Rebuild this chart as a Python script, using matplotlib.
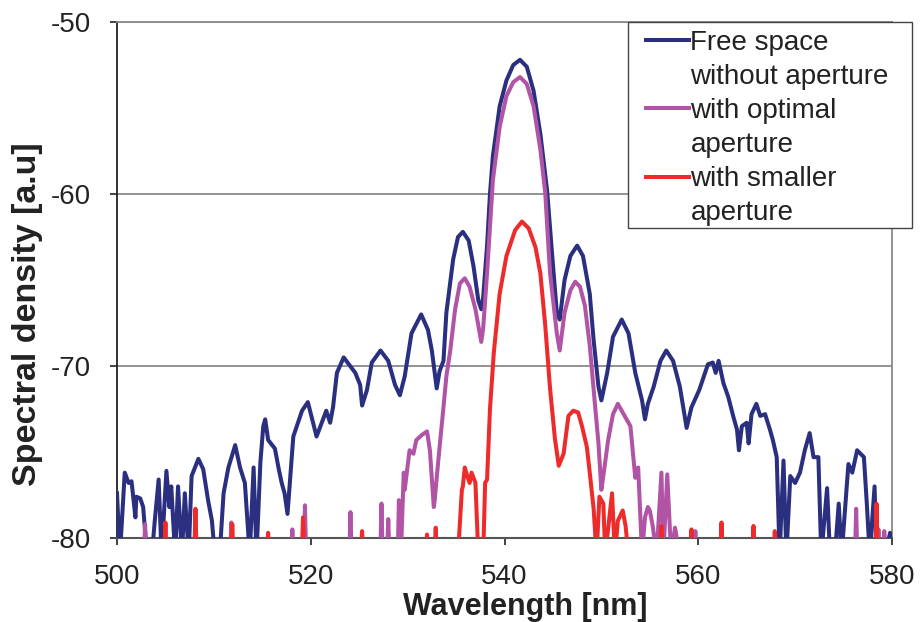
import numpy as np
import matplotlib
matplotlib.use("Agg")
import matplotlib.pyplot as plt
from matplotlib.lines import Line2D
from matplotlib.patches import Rectangle

plt.rcParams['font.family'] = ['Liberation Sans', 'DejaVu Sans']

# (wavelength nm, spectral density a.u.); -81 = below the axis floor
free_space = np.array([
    (500.0, -77.4), (500.3, -81), (500.8, -76.2), (501.2, -76.8), (501.5, -76.7), (501.9, -78.8),
    (502.0, -77.6), (502.4, -77.7), (502.7, -78.2), (503.1, -81), (503.6, -81), (503.9, -79.0),
    (504.3, -76.6), (504.6, -81), (505.1, -76.1), (505.4, -78.2), (505.6, -77.0), (506.0, -81),
    (506.3, -77.0), (506.7, -81), (507.0, -77.4), (507.4, -81), (507.7, -76.4), (508.4, -75.4),
    (508.9, -76.0), (509.4, -77.8), (509.8, -79.0), (510.1, -81), (510.6, -81), (511.0, -77.4),
    (511.5, -75.9), (512.2, -74.6), (512.7, -75.9), (513.2, -76.8), (513.7, -81), (514.1, -75.9),
    (514.4, -81), (514.8, -75.6), (515.1, -73.5), (515.3, -73.1), (515.6, -74.3), (516.3, -74.8),
    (516.7, -76.0), (517.0, -76.8), (517.3, -77.4), (517.6, -78.6), (518.2, -74.1), (519.1, -72.6),
    (519.7, -72.1), (520.6, -74.1), (521.6, -72.6), (522.0, -73.3), (522.3, -72.4), (522.7, -70.4),
    (523.4, -69.5), (523.8, -69.8), (524.6, -70.4), (525.1, -71.1), (525.3, -72.3), (525.8, -71.4),
    (526.3, -69.8), (527.2, -69.1), (528.0, -69.7), (528.7, -71.1), (529.2, -71.7), (529.7, -70.6),
    (530.4, -68.1), (531.4, -67.0), (532.1, -67.9), (532.5, -69.1), (533.0, -71.3), (533.3, -70.3),
    (533.7, -69.7), (534.0, -66.9), (534.7, -63.8), (535.2, -62.5), (535.7, -62.2), (536.3, -62.7),
    (536.8, -64.2), (537.3, -66.2), (537.6, -66.7), (537.8, -66.0), (538.2, -63.0), (538.5, -60.0),
    (538.8, -57.8), (539.5, -54.9), (540.2, -53.4), (540.9, -52.5), (541.6, -52.2), (542.3, -52.6),
    (543.0, -54.0), (543.7, -56.5), (544.4, -59.8), (544.9, -63.4), (545.4, -66.9), (545.7, -67.3),
    (546.2, -65.0), (546.8, -63.6), (547.5, -63.0), (548.1, -63.6), (548.8, -65.8), (549.2, -68.5),
    (549.7, -71.2), (550.0, -72.0), (550.6, -70.4), (551.2, -68.3), (552.1, -67.3), (552.8, -68.1),
    (553.5, -70.4), (554.2, -72.0), (554.5, -73.1), (554.8, -72.2), (555.4, -71.2), (556.1, -69.7),
    (556.7, -69.1), (557.4, -69.7), (558.1, -71.2), (558.8, -73.6), (559.3, -72.4), (560.1, -71.4),
    (561.0, -69.9), (561.5, -69.8), (561.8, -70.4), (562.1, -69.7), (562.6, -71.0), (563.1, -71.8),
    (563.6, -72.9), (564.0, -73.7), (564.2, -74.9), (564.5, -73.5), (565.0, -73.3), (565.2, -74.5),
    (565.5, -72.8), (566.0, -72.2), (566.4, -72.9), (566.9, -72.8), (567.4, -73.7), (567.7, -74.3),
    (568.1, -75.3), (568.4, -81), (568.8, -75.5), (569.1, -81), (569.5, -76.4), (570.0, -76.8),
    (570.5, -76.2), (571.0, -74.9), (571.5, -73.9), (571.9, -75.3), (572.4, -75.3), (572.7, -81),
    (573.3, -77.1), (573.6, -81), (574.1, -81), (574.5, -78.0), (574.8, -81), (575.5, -75.7),
    (575.9, -76.2), (576.4, -74.9), (577.1, -75.3), (577.4, -78.0), (577.7, -81), (578.2, -77.0),
    (578.4, -81), (579.3, -81), (579.8, -79.7), (580.0, -80.5),
])

optimal_main = np.array([
    (529.3, -81), (529.6, -76.2), (529.7, -77.2), (530.2, -74.9), (530.6, -75.1), (530.9, -74.3),
    (531.5, -74.0), (532.0, -73.8), (532.3, -74.9), (532.7, -78.2), (532.8, -77.8), (533.0, -76.5),
    (533.3, -74.7), (533.7, -72.4), (534.0, -70.6), (534.4, -69.1), (534.9, -66.7), (535.4, -65.2),
    (535.9, -64.9), (536.4, -65.4), (537.0, -66.7), (537.6, -68.6), (537.8, -67.8), (538.2, -64.6),
    (538.8, -59.2), (539.5, -56.1), (540.2, -54.3), (540.9, -53.5), (541.6, -53.2), (542.3, -53.6),
    (543.0, -54.9), (543.7, -57.4), (544.2, -59.9), (544.7, -64.6), (545.4, -68.1), (545.7, -69.1),
    (546.2, -66.9), (546.8, -65.6), (547.3, -65.1), (547.8, -65.4), (548.3, -66.5), (548.8, -68.8),
    (549.3, -72.0), (549.7, -74.5), (550.0, -77.2), (550.2, -76.4), (550.7, -74.3), (551.2, -72.8),
    (551.7, -72.2), (552.3, -72.8), (553.0, -73.5), (553.5, -76.5), (553.8, -75.9), (554.2, -81),
    (554.5, -78.8), (554.8, -78.2), (555.0, -78.4), (555.3, -79.3), (555.7, -81), (556.2, -76.2),
    (556.4, -81), (556.8, -76.3), (557.2, -81), (557.6, -79.4), (558.1, -81),
])
optimal_spikes = np.array([
    (502.9, -79.2), (511.8, -79.1), (518.1, -79.5), (519.4, -78.1), (524.1, -78.5),
    (527.3, -78.0), (528.0, -78.9), (529.1, -77.8), (559.7, -79.6), (576.3, -78.3),
    (578.6, -79.5), (579.2, -79.6),
])

smaller_main = np.array([
    (535.2, -81), (535.6, -77.2), (535.7, -77.0), (535.9, -75.9), (536.1, -76.3), (536.4, -76.8),
    (536.6, -76.2), (537.0, -76.8), (537.3, -81), (537.8, -81), (538.0, -76.8), (538.2, -76.6),
    (538.5, -72.5), (538.9, -69.2), (539.5, -65.8), (540.2, -63.6), (541.1, -62.1), (541.8, -61.6),
    (542.5, -62.0), (543.2, -63.1), (543.7, -64.6), (544.2, -67.6), (544.7, -71.3), (545.2, -74.2),
    (545.6, -75.8), (546.1, -75.1), (546.6, -72.9), (547.1, -72.6), (547.6, -72.7), (548.0, -73.5),
    (548.5, -74.7), (548.8, -76.2), (549.2, -78.3), (549.5, -81), (549.8, -77.6), (550.2, -78.0),
    (550.4, -81), (551.1, -77.4), (551.4, -81), (551.7, -79.0), (552.2, -78.4), (552.5, -79.3),
    (552.8, -81),
])
smaller_spikes = np.array([
    (505.0, -79.1), (508.1, -78.3), (511.9, -79.2), (515.6, -79.7), (519.2, -78.8),
    (525.3, -79.6), (532.0, -79.8), (532.9, -79.4), (556.2, -79.3), (559.3, -79.5),
    (562.4, -79.1), (565.7, -79.3), (567.9, -79.6), (578.4, -78.0),
])

series_labels = [["Free space", "without aperture"],
                 ["with optimal", "aperture"],
                 ["with smaller", "aperture"]]
colors = ['#2B2F7F', '#B254A6', '#EE2B2B']


def add_spikes(main, spikes, floor=-81, half=0.12):
    pts = [tuple(p) for p in main] + [(500.0, floor), (580.0, floor)]
    for w, v in spikes:
        pts += [(w - half, floor), (w, v), (w + half, floor)]
    pts.sort()
    arr = np.array(pts)
    return arr[:, 0], arr[:, 1]


W, H = 921, 622
fig = plt.figure(figsize=(W / 100, H / 100), dpi=100)
ax = fig.add_axes([117 / W, 1 - 538 / H, (892 - 117) / W, (538 - 22) / H])

lw = 2.9
ax.plot(free_space[:, 0], free_space[:, 1], color=colors[0], lw=lw, zorder=3)
x, y = add_spikes(optimal_main, optimal_spikes)
ax.plot(x, y, color=colors[1], lw=lw, zorder=4)
x, y = add_spikes(smaller_main, smaller_spikes)
ax.plot(x, y, color=colors[2], lw=lw, zorder=5)

ax.set_xlim(500, 580)
ax.set_ylim(-80, -50)
ax.set_xticks([500, 520, 540, 560, 580])
ax.set_yticks([-80, -70, -60, -50])
ax.set_yticklabels(['-80', '-70', '-60', '-50'])
ax.tick_params(axis='both', direction='out', length=5, width=1.2, labelsize=20,
               colors='#222222')
ax.tick_params(axis='y', pad=14)
ax.tick_params(axis='x', pad=14)
ax.yaxis.grid(True, color='#8a8a8a', lw=1.3)
ax.set_axisbelow(True)
ax.spines['left'].set_color('#222222')
ax.spines['left'].set_linewidth(1.3)
ax.spines['bottom'].set_color('#555555')
ax.spines['bottom'].set_linewidth(1.5)
for s in ['top', 'right']:
    ax.spines[s].set_color('#8a8a8a')
    ax.spines[s].set_linewidth(1.3)

fig.text(28 / W, 1 - 314 / H, 'Spectral density [a.u]', rotation=90, ha='center', va='center',
         fontsize=24.5, fontweight='bold', color='#222222')
fig.text(525 / W, 1 - 615 / H, 'Wavelength [nm]', ha='center', va='baseline',
         fontsize=22, fontweight='bold', color='#222222')

# legend: box drawn separately so it can stick out past the plot frame like the original
fig.patches.append(Rectangle((628 / W, 1 - 228 / H), (912 - 628) / W, (228 - 22) / H,
                             transform=fig.transFigure, facecolor='white',
                             edgecolor='#444444', lw=1.0, zorder=6))
handles, labels = [], []
for c, lab in zip(colors, series_labels):
    handles.append(Line2D([], [], color=c, lw=lw))
    labels.append(lab[0])
    handles.append(Line2D([], [], color='none'))
    labels.append(lab[1])
leg = fig.legend(handles, labels, loc='upper left', bbox_to_anchor=(646 / W, 1 - 30 / H),
                 bbox_transform=fig.transFigure, fontsize=20, frameon=False,
                 borderpad=0, labelspacing=0.29, handlelength=1.55, handletextpad=0.05,
                 borderaxespad=0)
leg.set_zorder(7)
for t in leg.get_texts():
    t.set_color('#222222')

fig.savefig('out.png', dpi=100)
